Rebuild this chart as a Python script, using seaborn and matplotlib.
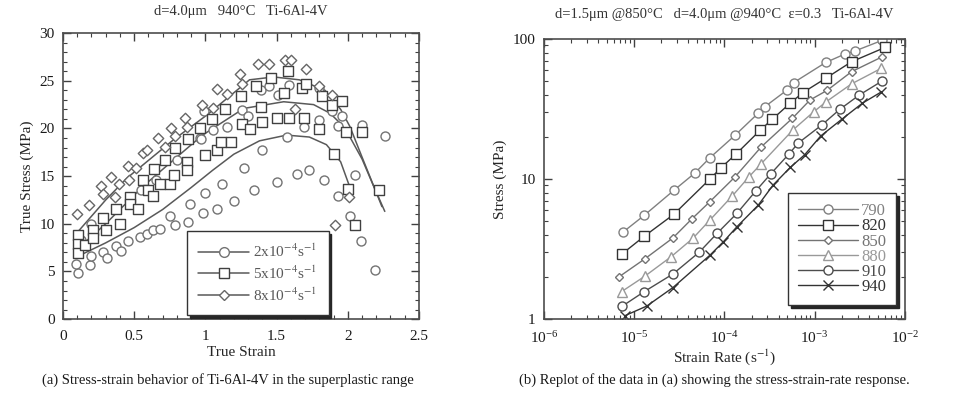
import matplotlib
matplotlib.use("Agg")
import matplotlib.pyplot as plt
from matplotlib.lines import Line2D
from matplotlib.ticker import MultipleLocator, LogLocator, FuncFormatter, NullFormatter
import pandas as pd
import seaborn as sns

# ---- (a) true stress vs true strain, three strain rates ----
c2_x = [0.107, 0.09, 0.19, 0.20, 0.28, 0.31, 0.37, 0.41, 0.46, 0.54, 0.59, 0.63, 0.68, 0.75, 0.79,
        0.88, 0.89, 0.98, 1.0, 1.08, 1.12, 1.2, 1.27, 1.34, 1.40, 1.50, 1.57, 1.64, 1.73, 1.83,
        1.93, 2.05, 2.015, 2.09, 2.19, 1.255, 1.39, 1.45, 1.51, 1.59, 1.69, 1.80, 1.055, 0.96,
        0.99, 1.80, 1.89, 1.96, 1.93, 2.10, 2.26, 0.65, 0.80, 0.97, 0.55, 1.15, 1.30, 0.20, 0.13]
c2_y = [4.8, 5.8, 5.7, 6.6, 7.0, 6.4, 7.7, 7.1, 8.2, 8.6, 8.9, 9.3, 9.5, 10.8, 9.9,
        10.2, 12.1, 11.15, 13.2, 11.5, 14.2, 12.4, 15.9, 13.5, 17.7, 14.4, 19.1, 15.2, 15.6, 14.6,
        12.9, 15.1, 10.8, 8.2, 5.2, 21.9, 24.0, 24.4, 23.5, 24.6, 20.2, 20.9, 19.8, 19.0,
        21.8, 24.2, 21.8, 21.3, 20.25, 20.4, 19.2, 14.6, 16.7, 18.9, 13.5, 20.2, 21.3, 10.0, 8.3]

c5_x = [0.107, 0.107, 0.107, 0.155, 0.21, 0.21, 0.30, 0.28, 0.40, 0.37, 0.47, 0.47, 0.53, 0.56,
        0.60, 0.63, 0.64, 0.68, 0.72, 0.75, 0.78, 0.79, 0.87, 0.87, 0.88, 0.96, 1.0, 1.08, 1.11,
        1.18, 1.05, 1.14, 1.26, 1.31, 1.25, 1.355, 1.39, 1.40, 1.46, 1.505, 1.55, 1.58, 1.59,
        1.68, 1.69, 1.71, 1.80, 1.82, 1.89, 1.96, 1.99, 2.10, 1.90, 2.0, 2.22, 2.05]
c5_y = [8.8, 7.9, 6.9, 7.8, 9.3, 8.5, 9.3, 10.6, 10.0, 11.5, 12.8, 12.1, 11.6, 14.6,
        13.5, 12.9, 15.7, 14.2, 16.7, 14.2, 15.1, 18.0, 16.5, 15.6, 18.9, 20.0, 17.2, 17.7, 18.6,
        18.6, 21.0, 22.0, 20.5, 19.9, 23.4, 24.5, 22.3, 20.7, 25.3, 21.1, 23.7, 26.0, 21.1,
        24.2, 21.1, 24.7, 19.9, 23.4, 22.5, 22.9, 19.6, 19.6, 17.3, 13.7, 13.5, 9.9]

c8_x = [0.096, 0.18, 0.27, 0.28, 0.335, 0.365, 0.39, 0.46, 0.466, 0.51, 0.564, 0.59, 0.67, 0.716,
        0.76, 0.79, 0.857, 0.873, 0.974, 1.055, 1.08, 1.15, 1.24, 1.255, 1.37, 1.45, 1.56, 1.60,
        1.71, 1.80, 1.63, 1.89, 2.01, 1.91]
c8_y = [11.0, 12.0, 14.0, 13.1, 14.9, 12.8, 14.2, 16.05, 14.6, 15.8, 17.4, 17.7, 19.0, 18.1,
        20.0, 19.2, 21.1, 20.1, 22.5, 22.1, 24.1, 23.6, 25.7, 24.7, 26.8, 26.8, 27.2, 27.2,
        26.2, 24.4, 22.0, 23.5, 12.8, 9.9]

# fitted curves
fit2_x = [0.12, 0.3, 0.5, 0.7, 0.9, 1.05, 1.2, 1.38, 1.57, 1.73, 1.85, 1.95, 2.03]
fit2_y = [6.7, 8.0, 9.6, 11.5, 13.8, 15.6, 17.3, 18.7, 19.3, 19.1, 18.3, 16.5, 13.2]
fit5_x = [0.12, 0.3, 0.56, 0.8, 0.98, 1.27, 1.55, 1.76, 1.875, 1.95, 2.015, 2.1, 2.18, 2.26]
fit5_y = [7.6, 10.0, 13.9, 17.0, 19.3, 22.1, 22.8, 22.5, 21.6, 20.5, 19.1, 16.8, 14.0, 11.3]
fit8_x = [0.107, 0.3, 0.45, 0.775, 1.01, 1.31, 1.48, 1.66, 1.84, 1.95, 2.015, 2.1, 2.24]
fit8_y = [9.2, 12.5, 14.8, 18.8, 21.4, 25.1, 25.4, 25.1, 24.0, 22.0, 20.2, 17.0, 11.8]

rate_labels = ["2x10$^{-4}$s$^{-1}$", "5x10$^{-4}$s$^{-1}$", "8x10$^{-4}$s$^{-1}$"]

# ---- (b) stress vs strain rate, six temperatures ----
temps = ["790", "820", "850", "880", "910", "940"]
r790 = [7.59e-6, 1.29e-5, 2.75e-5, 4.68e-5, 6.92e-5, 1.32e-4, 2.37e-4, 2.82e-4, 4.90e-4, 5.89e-4,
        1.33e-3, 2.16e-3, 2.79e-3, 5.66e-3]
s790 = [4.2, 5.5, 8.3, 11, 14.2, 20.6, 29.5, 32.9, 43, 48.9, 68, 78, 82, 98]
r820 = [7.24e-6, 1.29e-5, 2.75e-5, 6.92e-5, 9.12e-5, 1.35e-4, 2.51e-4, 3.39e-4, 5.37e-4, 7.41e-4,
        1.33e-3, 2.57e-3, 6.03e-3]
s820 = [2.9, 3.9, 5.6, 10, 12, 15.1, 22.4, 26.7, 34.8, 41.4, 52.4, 68.8, 87]
r850 = [6.76e-6, 1.32e-5, 2.69e-5, 4.37e-5, 6.92e-5, 1.32e-4, 2.57e-4, 5.69e-4, 8.91e-4, 1.38e-3,
        2.57e-3, 5.66e-3]
s850 = [2.0, 2.7, 3.8, 5.2, 6.9, 10.4, 17, 27.2, 36.7, 43, 58.4, 74.8]
r880 = [7.24e-6, 1.32e-5, 2.57e-5, 4.47e-5, 6.92e-5, 1.23e-4, 1.88e-4, 2.57e-4, 5.75e-4, 9.77e-4,
        1.35e-3, 2.57e-3, 5.50e-3]
s880 = [1.57, 2.03, 2.79, 3.77, 5.1, 7.6, 10.4, 12.9, 22.4, 30.2, 35.7, 47.8, 61.8]
r910 = [7.41e-6, 1.29e-5, 2.69e-5, 5.25e-5, 8.32e-5, 1.38e-4, 2.24e-4, 3.27e-4, 5.25e-4, 6.61e-4,
        1.20e-3, 1.91e-3, 3.13e-3, 5.66e-3]
s910 = [1.24, 1.57, 2.1, 3.0, 4.1, 5.7, 8.25, 10.9, 15.2, 18.1, 24.3, 31.5, 39.8, 50.3]
r940 = [7.94e-6, 1.38e-5, 2.69e-5, 6.92e-5, 9.77e-5, 1.38e-4, 2.37e-4, 3.47e-4, 5.37e-4, 7.76e-4,
        1.17e-3, 2.00e-3, 3.39e-3, 5.50e-3]
s940 = [1.06, 1.24, 1.68, 2.86, 3.57, 4.57, 6.5, 9.06, 12.1, 14.9, 20.3, 26.7, 34.8, 41.9]

sns.set_style("ticks")
plt.rcParams["font.family"] = ["Liberation Serif", "DejaVu Serif"]
plt.rcParams["mathtext.fontset"] = "stix"

fig = plt.figure(figsize=(9.57, 3.94), dpi=100)
axL = fig.add_axes([0.0658, 0.190, 0.372, 0.726])
axR = fig.add_axes([0.5684, 0.190, 0.377, 0.711])

# left panel
left_sets = [(c2_x, c2_y, "o", "0.45"), (c5_x, c5_y, "s", "0.25"), (c8_x, c8_y, "D", "0.4")]
for xs, ys, mk, col in left_sets:
    sns.scatterplot(x=xs, y=ys, marker=mk, s=42 if mk != "D" else 28, facecolor="white",
                    edgecolor=col, linewidth=1.0, ax=axL, zorder=3)
for fx, fy in [(fit2_x, fit2_y), (fit5_x, fit5_y), (fit8_x, fit8_y)]:
    sns.lineplot(x=fx, y=fy, sort=False, estimator=None, color="0.35", linewidth=1.1, ax=axL, zorder=2)

axL.set_xlim(0, 2.5)
axL.set_ylim(0, 30)
axL.xaxis.set_major_locator(MultipleLocator(0.5))
axL.xaxis.set_minor_locator(MultipleLocator(0.1))
axL.yaxis.set_major_locator(MultipleLocator(5))
axL.yaxis.set_minor_locator(MultipleLocator(1))
axL.xaxis.set_major_formatter(FuncFormatter(lambda v, p: f"{v:g}"))
axL.set_xlabel("True Strain", fontsize=11, labelpad=2)
axL.set_ylabel("True Stress (MPa)", fontsize=11)
axL.set_title("d=4.0\u03bcm   940\u00b0C   Ti-6Al-4V", fontsize=10.5, pad=13, color="0.2")

hL = [Line2D([], [], color="0.35", marker=m, mfc="white", mec=c, ms=7 if m != "D" else 5.5, lw=1.1)
      for _, _, m, c in left_sets]
legL = axL.legend(hL, rate_labels, loc="lower left", bbox_to_anchor=(0.348, 0.014),
                  borderaxespad=0, fontsize=11, frameon=True, fancybox=False, handlelength=3.3,
                  labelspacing=0.3, borderpad=0.75, handletextpad=0.3,
                  shadow={"color": "0.15", "alpha": 1})
legL.get_frame().set_edgecolor("0.2")
legL.get_frame().set_linewidth(1.0)
for t in legL.get_texts():
    t.set_color("0.35")

# right panel
right_sets = [(r790, s790, "o", "0.5", 6.5), (r820, s820, "s", "0.2", 6.5),
              (r850, s850, "D", "0.45", 4.5), (r880, s880, "^", "0.6", 6.5),
              (r910, s910, "o", "0.3", 6.5), (r940, s940, "x", "0.2", 6.5)]
for xs, ys, mk, col, ms in right_sets:
    sns.lineplot(x=xs, y=ys, marker=mk, markersize=ms, mfc="white" if mk != "x" else col,
                 mec=col, mew=1.0, color=col, linewidth=1.0, ax=axR)

axR.set_xscale("log")
axR.set_yscale("log")
axR.set_xlim(1e-6, 1e-2)
axR.set_ylim(1, 100)
axR.xaxis.set_major_locator(LogLocator(base=10, numticks=10))
axR.xaxis.set_minor_locator(LogLocator(base=10, subs=range(2, 10), numticks=10))
axR.yaxis.set_major_formatter(FuncFormatter(lambda v, p: f"{v:g}"))
axR.yaxis.set_minor_formatter(NullFormatter())
axR.set_xlabel("Strain Rate (s$^{-1}$)", fontsize=11, labelpad=1)
axR.set_ylabel("Stress (MPa)", fontsize=11)
axR.set_title("d=1.5\u03bcm @850\u00b0C   d=4.0\u03bcm @940\u00b0C  \u03b5=0.3   Ti-6Al-4V",
              fontsize=10.5, pad=15, color="0.2")

hR = [Line2D([], [], color=c, marker=m, mfc="white" if m != "x" else c, mec=c, ms=ms, lw=1.0)
      for _, _, m, c, ms in right_sets]
legR = axR.legend(hR, temps, loc="lower left", bbox_to_anchor=(0.676, 0.05),
                  borderaxespad=0, fontsize=12, frameon=True, fancybox=False, handlelength=3.6,
                  labelspacing=-0.05, borderpad=0.6, handletextpad=0.2,
                  shadow={"color": "0.15", "alpha": 1})
legR.get_frame().set_edgecolor("0.2")
legR.get_frame().set_linewidth(1.0)
for t, (_, _, _, c, _) in zip(legR.get_texts(), right_sets):
    t.set_color(c)

for ax in (axL, axR):
    ax.tick_params(which="both", direction="in", top=True, right=True, labelsize=11,
                   colors="0.25", labelcolor="0.1")
    ax.tick_params(axis="x", which="major", pad=8)
    ax.tick_params(axis="y", which="major", pad=6)
    ax.tick_params(which="major", length=6, width=1.0)
    ax.tick_params(which="minor", length=3, width=0.8)
    for sp in ax.spines.values():
        sp.set_visible(True)
        sp.set_color("0.3")
        sp.set_linewidth(1.2)
    ax.xaxis.label.set_color("0.15")
    ax.yaxis.label.set_color("0.15")

fig.text(0.238, 0.035, "(a) Stress-strain behavior of Ti-6Al-4V in the superplastic range",
         ha="center", va="center", fontsize=10.5, color="0.1")
fig.text(0.746, 0.035, "(b) Replot of the data in (a) showing the stress-strain-rate response.",
         ha="center", va="center", fontsize=10.5, color="0.1")

fig.savefig("out.png", dpi=100)
